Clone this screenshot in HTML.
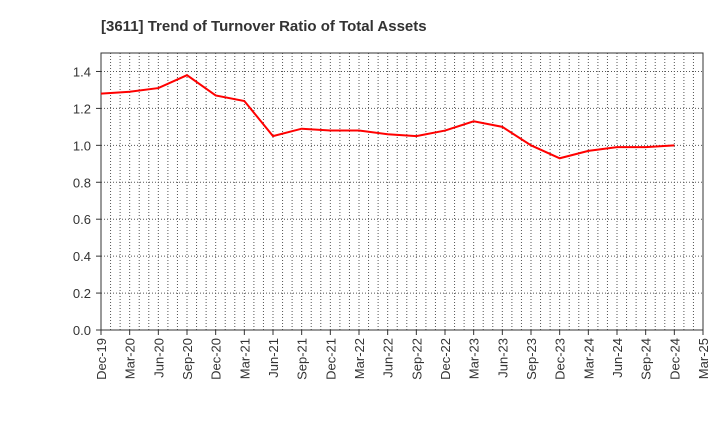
<!DOCTYPE html>
<html><head><meta charset="utf-8"><style>
body{margin:0;background:#fff;font-family:"Liberation Sans",sans-serif;}
</style></head><body>
<svg id="chart" width="720" height="440" xmlns="http://www.w3.org/2000/svg" font-family="Liberation Sans, sans-serif">
<text x="101" y="31" font-size="15" font-weight="bold" fill="#333">[3611]  Trend of Turnover Ratio of Total Assets</text>
<g id="grid"></g><g id="axes"></g><g id="series"></g>
</svg>
<script>
const categories=["Dec-19","Mar-20","Jun-20","Sep-20","Dec-20","Mar-21","Jun-21","Sep-21","Dec-21","Mar-22","Jun-22","Sep-22","Dec-22","Mar-23","Jun-23","Sep-23","Dec-23","Mar-24","Jun-24","Sep-24","Dec-24"];
const values=[1.28,1.29,1.31,1.38,1.27,1.24,1.05,1.09,1.08,1.08,1.06,1.05,1.08,1.13,1.10,1.00,0.93,0.97,0.99,0.99,1.00];
const xTickLabels=["Dec-19","Mar-20","Jun-20","Sep-20","Dec-20","Mar-21","Jun-21","Sep-21","Dec-21","Mar-22","Jun-22","Sep-22","Dec-22","Mar-23","Jun-23","Sep-23","Dec-23","Mar-24","Jun-24","Sep-24","Dec-24","Mar-25"];
const yTicks=[0,0.2,0.4,0.6,0.8,1.0,1.2,1.4];
const L=101,R=703,T=53,B=330,yMax=1.5;
const ns="http://www.w3.org/2000/svg";
const nq=xTickLabels.length-1;
const x=i=>L+(R-L)*i/nq;
const y=v=>B-(B-T)*v/yMax;
function mk(tag,attrs,parent){const e=document.createElementNS(ns,tag);for(const k in attrs)e.setAttribute(k,attrs[k]);parent.appendChild(e);return e;}
const grid=document.getElementById('grid'),axes=document.getElementById('axes'),series=document.getElementById('series');
for(let m=1;m<nq*3;m++){const xx=L+(R-L)*m/(nq*3);
 const g=mk('line',{x1:xx,x2:xx,y1:T,y2:B,stroke:'#555','stroke-dasharray':'1,2','stroke-width':1},grid);
 
 }
yTicks.forEach(v=>{
 if(v>0){const g=mk('line',{x1:L,x2:R,y1:y(v),y2:y(v),stroke:'#555','stroke-dasharray':'1,2'},grid);
 
 }
 const t=mk('text',{x:L-10,y:y(v)+5,'text-anchor':'end','font-size':13,fill:'#333'},axes);
 t.textContent=v.toFixed(1);
 
 
 mk('line',{x1:L-5,x2:L,y1:y(v),y2:y(v),stroke:'#333'},axes);
});
xTickLabels.forEach((c,i)=>{
 mk('line',{x1:x(i),x2:x(i),y1:B,y2:B+5,stroke:'#333'},axes);
 const t=mk('text',{x:0,y:0,'text-anchor':'end','font-size':13,fill:'#333',transform:`translate(${x(i)+5},${B+8}) rotate(-90)`},axes);
 t.textContent=c;
 
 
});
const frame=mk('rect',{x:L,y:T,width:R-L,height:B-T,fill:'none',stroke:'#333','stroke-width':1},axes);


const pts=values.map((v,i)=>x(xTickLabels.indexOf(categories[i]))+','+y(v)).join(' ');
const line=mk('polyline',{points:pts,fill:'none',stroke:'#f00','stroke-width':2},series);


</script>
</body></html>
